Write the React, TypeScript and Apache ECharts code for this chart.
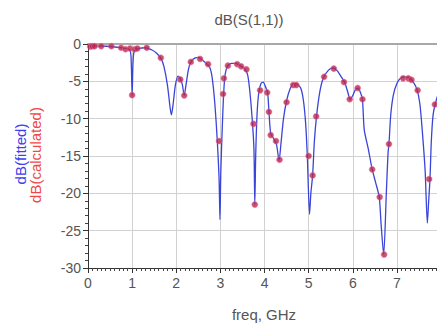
import React, { useEffect, useRef } from "react";
import * as echarts from "echarts";

// freq (GHz) of the fitted curve
const fitFreq = [
  0, 0.2, 0.4, 0.6, 0.8, 0.95, 0.98, 1.0, 1.02, 1.05, 1.15, 1.3, 1.45, 1.55, 1.65, 1.72, 1.8, 1.86, 1.89, 1.93,
  1.98, 2.04, 2.09, 2.14, 2.18, 2.22, 2.28, 2.34, 2.42, 2.5, 2.58, 2.66, 2.74, 2.8, 2.86, 2.92, 2.97, 2.99, 3.01,
  3.05, 3.08, 3.11, 3.16, 3.25, 3.35, 3.45, 3.55, 3.62, 3.67, 3.72, 3.76, 3.78, 3.8, 3.83, 3.87, 3.92, 3.97, 4.02,
  4.07, 4.1, 4.14, 4.2, 4.27, 4.33, 4.37, 4.43, 4.5, 4.58, 4.66, 4.74, 4.82, 4.88, 4.93, 4.97, 5.02, 5.05, 5.09,
  5.13, 5.18, 5.25, 5.33, 5.45, 5.56, 5.65, 5.75, 5.82, 5.88, 5.94, 6.0, 6.06, 6.12, 6.18, 6.22, 6.26, 6.35, 6.44,
  6.52, 6.6, 6.64, 6.7, 6.76, 6.8, 6.82, 6.86, 6.92, 7.0, 7.08, 7.18, 7.28, 7.35, 7.45, 7.52, 7.58, 7.64, 7.69,
  7.72, 7.75, 7.78, 7.82, 7.87, 7.95, 8.05,
];
// dB(fitted)
const fitDb = [
  -0.3, -0.25, -0.3, -0.4, -0.55, -0.8, -2.5, -6.9, -2.5, -0.9, -0.6, -0.5, -0.8, -1.2, -1.9, -3.0, -5.5, -8.5,
  -9.5, -8.0, -5.5, -4.3, -4.6, -5.5, -6.9, -5.5, -3.3, -2.3, -1.9, -1.8, -2.1, -2.5, -2.9, -4.0, -7.0, -12.0,
  -18.0, -23.5, -17.0, -10.0, -6.0, -4.0, -3.0, -2.6, -2.6, -2.9, -3.3, -4.2, -6.5, -10.0, -14.0, -21.5, -15.0,
  -9.5, -6.5, -5.3, -5.1, -5.7, -6.5, -9.0, -12.0, -12.6, -13.4, -15.6, -13.5, -10.0, -7.6, -6.0, -5.3, -5.4,
  -5.9, -7.5, -10.5, -15.0, -22.8, -20.0, -17.6, -13.0, -9.6, -6.5, -4.6, -3.5, -3.2, -3.6, -4.5, -5.2, -6.3,
  -7.4, -6.9, -6.1, -5.9, -6.6, -7.5, -11.5, -14.0, -16.8, -18.6, -20.5, -24.0, -28.2, -20.0, -14.5, -13.4,
  -9.5, -6.8, -5.3, -4.6, -4.4, -4.5, -4.9, -6.0, -8.0, -12.0, -17.0, -24.0, -21.0, -18.0, -13.0, -9.5, -8.0,
  -6.5, -5.5,
];

// freq (GHz) of the calculated points
const calcFreq = [
  0.05, 0.1, 0.15, 0.3, 0.53, 0.75, 0.85, 0.95, 1.0, 1.06, 1.12, 1.33, 1.65, 2.09, 2.18, 2.33, 2.54, 2.72, 2.97,
  3.06, 3.08, 3.17, 3.38, 3.47, 3.59, 3.75, 3.78, 3.9, 4.06, 4.1, 4.14, 4.26, 4.34, 4.5, 4.65, 4.72, 5.0, 5.09,
  5.17, 5.35, 5.57, 5.8, 5.93, 6.11, 6.22, 6.44, 6.61, 6.71, 6.82, 7.14, 7.26, 7.33, 7.47, 7.73, 7.86,
];
// dB(calculated)
const calcDb = [
  -0.35, -0.3, -0.3, -0.3, -0.3, -0.5, -0.7, -0.6, -6.85, -0.7, -0.6, -0.5, -1.85, -4.75, -6.9, -2.4, -2.0,
  -2.7, -13.0, -6.7, -4.6, -2.9, -2.7, -3.0, -3.4, -10.7, -21.5, -6.2, -6.5, -9.1, -12.2, -13.0, -15.5, -7.8,
  -5.5, -5.5, -15.0, -17.6, -9.7, -4.4, -3.3, -5.1, -7.4, -5.9, -7.4, -16.8, -20.5, -28.2, -13.4, -4.6, -4.6,
  -4.8, -6.2, -18.1, -8.1,
];

const xTicksMin = 0;
const xTicksMax = 8.5;
const yTicksMin = -30;
const yTicksMax = 0;

const FONT = "Liberation Sans, Arial, sans-serif";

export default function App() {
  const ref = useRef<HTMLDivElement>(null);

  useEffect(() => {
    if (!ref.current) return;
    const chart = echarts.init(ref.current, undefined, { renderer: "svg" });
    const fit = fitFreq.map((f, i) => [f, fitDb[i]]);
    const calc = calcFreq.map((f, i) => [f, calcDb[i]]);
    const pxPerGHz = 44.13;
    chart.setOption({
      animation: false,
      backgroundColor: "#ffffff",
      grid: {
        left: 88,
        top: 44,
        height: 224,
        width: pxPerGHz * (xTicksMax - xTicksMin),
        containLabel: false,
      },
      xAxis: [
        {
          type: "value",
          min: xTicksMin,
          max: xTicksMax,
          interval: 1,
          axisLine: { show: true, onZero: false, lineStyle: { color: "#333", width: 1 } },
          axisTick: { show: true, length: 5, lineStyle: { color: "#333" } },
          minorTick: { show: true, splitNumber: 10, length: 3, lineStyle: { color: "#444" } },
          splitLine: { show: true, lineStyle: { color: "#d2d2d2", width: 1 } },
          axisLabel: { fontSize: 14, color: "#555", margin: 8, fontFamily: FONT, showMaxLabel: false },
        },
        {
          type: "value",
          position: "top",
          min: xTicksMin,
          max: xTicksMax,
          interval: 1,
          axisLine: { show: true, onZero: false, lineStyle: { color: "#a8a8a8", width: 2 } },
          axisTick: { show: false },
          axisLabel: { show: false },
          splitLine: { show: false },
        },
      ],
      yAxis: {
        type: "value",
        min: yTicksMin,
        max: yTicksMax,
        interval: 5,
        axisLine: { show: true, onZero: false, lineStyle: { color: "#333", width: 1 } },
        axisTick: { show: true, length: 5, lineStyle: { color: "#333" } },
        minorTick: { show: true, splitNumber: 5, length: 3, lineStyle: { color: "#444" } },
        splitLine: { show: true, lineStyle: { color: "#d2d2d2", width: 1 } },
        axisLabel: { fontSize: 14, color: "#555", margin: 7, fontFamily: FONT },
      },
      series: [
        {
          name: "dB(fitted)",
          type: "line",
          data: fit,
          showSymbol: false,
          smooth: 0.25,
          lineStyle: { color: "#3a44d8", width: 1.3 },
          z: 2,
        },
        {
          name: "dB(calculated)",
          type: "scatter",
          data: calc,
          symbol: "circle",
          symbolSize: 6,
          itemStyle: { color: "#b8284f", borderColor: "rgba(240,110,150,0.7)", borderWidth: 1 },
          z: 3,
        },
      ],
      graphic: [
        {
          type: "text",
          x: 249,
          y: 19,
          style: {
            text: "dB(S(1,1))",
            fontSize: 15,
            fontFamily: FONT,
            fill: "#555",
            textAlign: "center",
            textVerticalAlign: "middle",
          },
        },
        {
          type: "text",
          x: 20,
          y: 154,
          rotation: Math.PI / 2,
          style: {
            text: "dB(fitted)",
            fontSize: 15,
            fontFamily: FONT,
            fill: "#4040f0",
            textAlign: "center",
            textVerticalAlign: "middle",
          },
        },
        {
          type: "text",
          x: 35,
          y: 155,
          rotation: Math.PI / 2,
          style: {
            text: "dB(calculated)",
            fontSize: 15,
            fontFamily: FONT,
            fill: "#f04848",
            textAlign: "center",
            textVerticalAlign: "middle",
          },
        },
        {
          type: "text",
          x: 264,
          y: 314,
          style: {
            text: "freq, GHz",
            fontSize: 15,
            fontFamily: FONT,
            fill: "#555",
            textAlign: "center",
            textVerticalAlign: "middle",
          },
        },
      ],
    });
    return () => chart.dispose();
  }, []);

  return (
    <div
      style={{
        position: "absolute",
        left: 0,
        top: 0,
        width: 437,
        height: 326,
        overflow: "hidden",
        background: "#fff",
      }}
    >
      <div ref={ref} style={{ width: 480, height: 326 }} />
    </div>
  );
}
